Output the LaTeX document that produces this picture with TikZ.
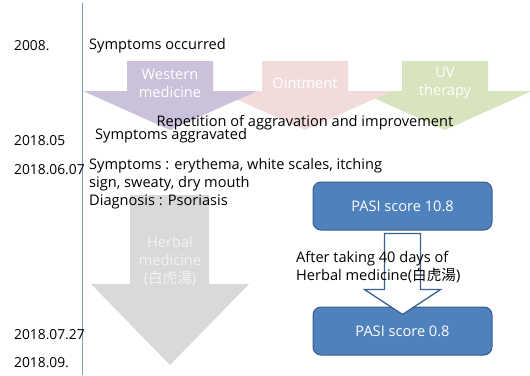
\documentclass[tikz,border=0pt]{standalone}
\usepackage{fontspec}
\setmainfont{Open Sans}
\newfontfamily\cjk{Noto Sans CJK KR}
\usetikzlibrary{calc}
\definecolor{westpurple}{RGB}{204,193,218}
\definecolor{ointpink}{RGB}{242,220,219}
\definecolor{uvgreen}{RGB}{215,228,189}
\definecolor{herbgray}{RGB}{217,217,217}
\definecolor{pasiblue}{RGB}{79,129,189}
\definecolor{pasiedge}{RGB}{56,93,138}
\definecolor{lineblue}{RGB}{125,155,190}
\begin{document}
\begin{tikzpicture}
  [x=1pt,y=-1pt,
   every node/.style={font=\fontsize{14.6}{18}\selectfont,inner sep=0pt},
   date/.style={anchor=west,font=\fontsize{13.8}{18}\selectfont},
   note/.style={anchor=west,align=left},
   inarrow/.style={text=white,align=center},
   pasi/.style={draw=pasiedge,fill=pasiblue,line width=1pt,rounded corners=8pt,
     minimum width=179pt,minimum height=48pt,text=white},
   hollow/.style={draw=pasiedge!90!pasiblue,fill=white,line width=1.3pt}]
  \useasboundingbox (0,0) rectangle (530,375);

  % time line
  \coordinate (top) at (82,3);
  \coordinate (bot) at (82,375);
  \draw[lineblue,line width=0.9pt] (top) -- (bot);

  % treatments before
  \foreach \cx/\col in {445/uvgreen,305/ointpink,170/westpurple}
    \fill[\col] (\cx-43,61) -- (\cx+43,61) -- (\cx+43,91) -- (\cx+87,91)
      -- (\cx,130) -- (\cx-87,91) -- (\cx-43,91) -- cycle;
  \fill[herbgray] (130,195) -- (209,195) -- (209,284) -- (249,284)
    -- (170,365) -- (91,284) -- (130,284) -- cycle;

  \node[inarrow] (west) at (170,83) {Western\\medicine};
  \node[inarrow] (oint) at (305,83) {Ointment};
  \node[inarrow] (uv) at (445,83) {UV\\therapy};
  \node[inarrow,text=white!95!black] (herbal) at (170,261) {Herbal\\medicine\\({\cjk 白虎湯})};

  % dates
  \node[date] (d2008) at (14,46) {2008.};
  \node[date] (d1805) at (14,141) {2018.05};
  \node[date] (d1806) at (14,170) {2018.06.07};
  \node[date] (d1807) at (14,335) {2018.07.27};
  \node[date] (d1809) at (14,363) {2018.09.};

  % notes
  \node[note] (occur) at (89,46) {Symptoms occurred};
  \node (repeat) at (305,123) {Repetition of aggravation and improvement};
  \node[note] (aggr) at (95,136) {Symptoms aggravated};
  \node[note] (diag) at (89,184) {Symptoms : erythema, white scales, itching\\
    sign, sweaty, dry mouth\\Diagnosis : Psoriasis};

  % PASI
  \node[pasi] (pasi1) at (402.5,206) {PASI score 10.8};
  \node[pasi] (pasi2) at (402.5,331) {PASI score 0.8};
  \draw[hollow] ($(pasi1.south)+(-18,3)$) -- ($(pasi1.south)+(18,3)$)
    -- ($(pasi2.north)+(18,-17)$) -- ($(pasi2.north)+(38,-17)$)
    -- ($(pasi2.north)+(0,8)$) -- ($(pasi2.north)+(-38,-17)$)
    -- ($(pasi2.north)+(-18,-17)$) -- cycle;
  \node[note] (after) at (296,267) {After taking 40 days of\\
    Herbal medicine({\cjk 白虎湯})};
\end{tikzpicture}
\end{document}
